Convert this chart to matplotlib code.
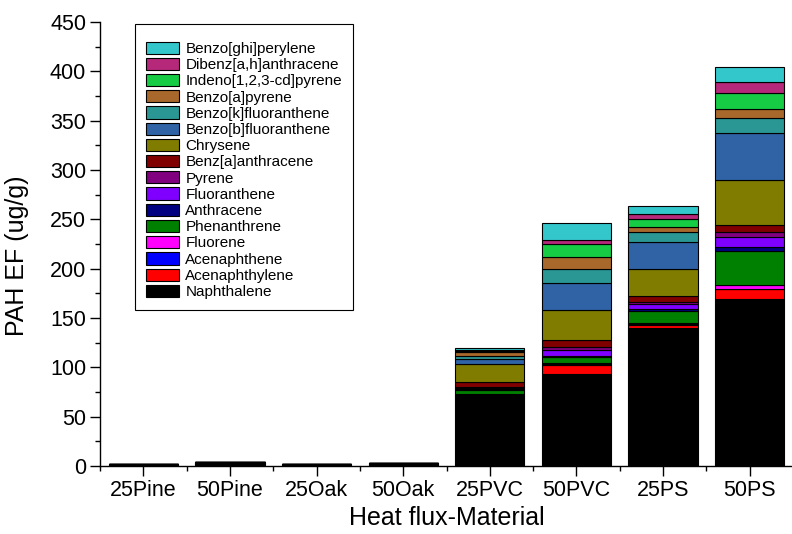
import numpy as np
import matplotlib
matplotlib.use('Agg')
import matplotlib.pyplot as plt

plt.rcParams['font.family'] = ['Liberation Sans', 'DejaVu Sans']

# heat flux - material
materials = ['25Pine', '50Pine', '25Oak', '50Oak', '25PVC', '50PVC', '25PS', '50PS']

# PAH emission factors (ug/g), stacked bottom -> top
naphthalene      = [1.4, 3.5, 1.5, 2.4, 71.5, 93.0, 139.4, 169.5]
acenaphthylene   = [0.2, 0.4, 0.2, 0.3, 0.8, 9.6, 3.4, 9.5]
acenaphthene     = [0.0, 0.0, 0.0, 0.0, 0.3, 0.5, 0.8, 0.8]
fluorene         = [0.0, 0.0, 0.0, 0.0, 0.4, 1.2, 1.0, 3.4]
phenanthrene     = [0.3, 0.5, 0.2, 0.3, 4.0, 5.8, 12.8, 35.0]
anthracene       = [0.0, 0.0, 0.0, 0.0, 1.2, 1.8, 1.9, 3.8]
fluoranthene     = [0.0, 0.1, 0.0, 0.0, 1.3, 5.4, 5.4, 10.5]
pyrene           = [0.0, 0.0, 0.0, 0.0, 1.0, 3.0, 1.9, 5.0]
benz_a_anth      = [0.0, 0.0, 0.0, 0.0, 5.0, 7.2, 5.4, 6.5]
chrysene         = [0.0, 0.0, 0.0, 0.0, 17.8, 30.8, 28.0, 45.8]
benzo_b_fluor    = [0.0, 0.0, 0.0, 0.0, 5.5, 26.7, 27.4, 47.2]
benzo_k_fluor    = [0.0, 0.0, 0.0, 0.0, 3.0, 14.6, 9.4, 15.5]
benzo_a_pyrene   = [0.0, 0.0, 0.0, 0.0, 3.5, 12.2, 5.4, 9.5]
indeno_pyrene    = [0.0, 0.0, 0.0, 0.0, 1.2, 13.0, 8.1, 16.4]
dibenz_ah_anth   = [0.0, 0.0, 0.0, 0.0, 1.3, 4.4, 5.4, 10.4]
benzo_ghi_peryl  = [0.0, 0.0, 0.0, 0.0, 2.2, 17.0, 7.8, 15.5]

series = [
    ('Naphthalene', naphthalene, '#000000'),
    ('Acenaphthylene', acenaphthylene, '#ff0000'),
    ('Acenaphthene', acenaphthene, '#0000ff'),
    ('Fluorene', fluorene, '#ff00ff'),
    ('Phenanthrene', phenanthrene, '#008000'),
    ('Anthracene', anthracene, '#000080'),
    ('Fluoranthene', fluoranthene, '#8000ff'),
    ('Pyrene', pyrene, '#800080'),
    ('Benz[a]anthracene', benz_a_anth, '#800000'),
    ('Chrysene', chrysene, '#807c00'),
    ('Benzo[b]fluoranthene', benzo_b_fluor, '#2f63a5'),
    ('Benzo[k]fluoranthene', benzo_k_fluor, '#2a9795'),
    ('Benzo[a]pyrene', benzo_a_pyrene, '#a8672b'),
    ('Indeno[1,2,3-cd]pyrene', indeno_pyrene, '#17cc45'),
    ('Dibenz[a,h]anthracene', dibenz_ah_anth, '#b5287a'),
    ('Benzo[ghi]perylene', benzo_ghi_peryl, '#33c7cc'),
]

fig = plt.figure(figsize=(7.92, 5.34), dpi=100)
ax = fig.add_axes([0.1263, 0.1273, 0.875, 0.8315])

x = np.arange(len(materials))
bottom = np.zeros(len(materials))
handles = []
for name, vals, col in series:
    vals = np.array(vals)
    b = ax.bar(x, vals, 0.8, bottom=bottom, color=col, edgecolor='black',
               linewidth=0.8, label=name)
    handles.append(b)
    bottom += vals

# axes styling
ax.set_xlim(-0.5, 7.5)
ax.set_ylim(0, 450)
ax.spines['top'].set_visible(False)
ax.spines['right'].set_visible(False)
ax.spines['left'].set_linewidth(1.0)
ax.spines['bottom'].set_linewidth(1.0)

ax.set_xticks(x)
ax.set_xticklabels(materials)
ax.set_xticks(np.arange(-0.5, 8, 1), minor=True)
ax.set_yticks(np.arange(0, 451, 50))
ax.set_yticks(np.arange(25, 450, 50), minor=True)
ax.tick_params(which='major', direction='out', length=7, width=1.0, labelsize=15.5, pad=3)
ax.tick_params(which='minor', direction='out', length=3.5, width=1.0)

ax.set_xlabel('Heat flux-Material', fontsize=18)
ax.set_ylabel('PAH EF (ug/g)', fontsize=18)
ax.xaxis.set_label_coords(0.5, -0.089)
ax.yaxis.set_label_coords(-0.102, 0.473)

# legend, top layer first (small blank title gives the gap at the top)
leg = ax.legend(handles[::-1], [s[0] for s in series[::-1]],
                loc='upper left', bbox_to_anchor=(135 / 792, 1 - 24 / 534),
                bbox_transform=fig.transFigure, borderaxespad=0,
                fontsize=11, frameon=True, fancybox=False, framealpha=1,
                edgecolor='black', handlelength=2.2, handleheight=0.85,
                handletextpad=0.4, labelspacing=0.12, borderpad=0.7,
                title=' ', title_fontsize=4)
leg.get_frame().set_linewidth(0.8)

fig.savefig('out.png', dpi=100)
